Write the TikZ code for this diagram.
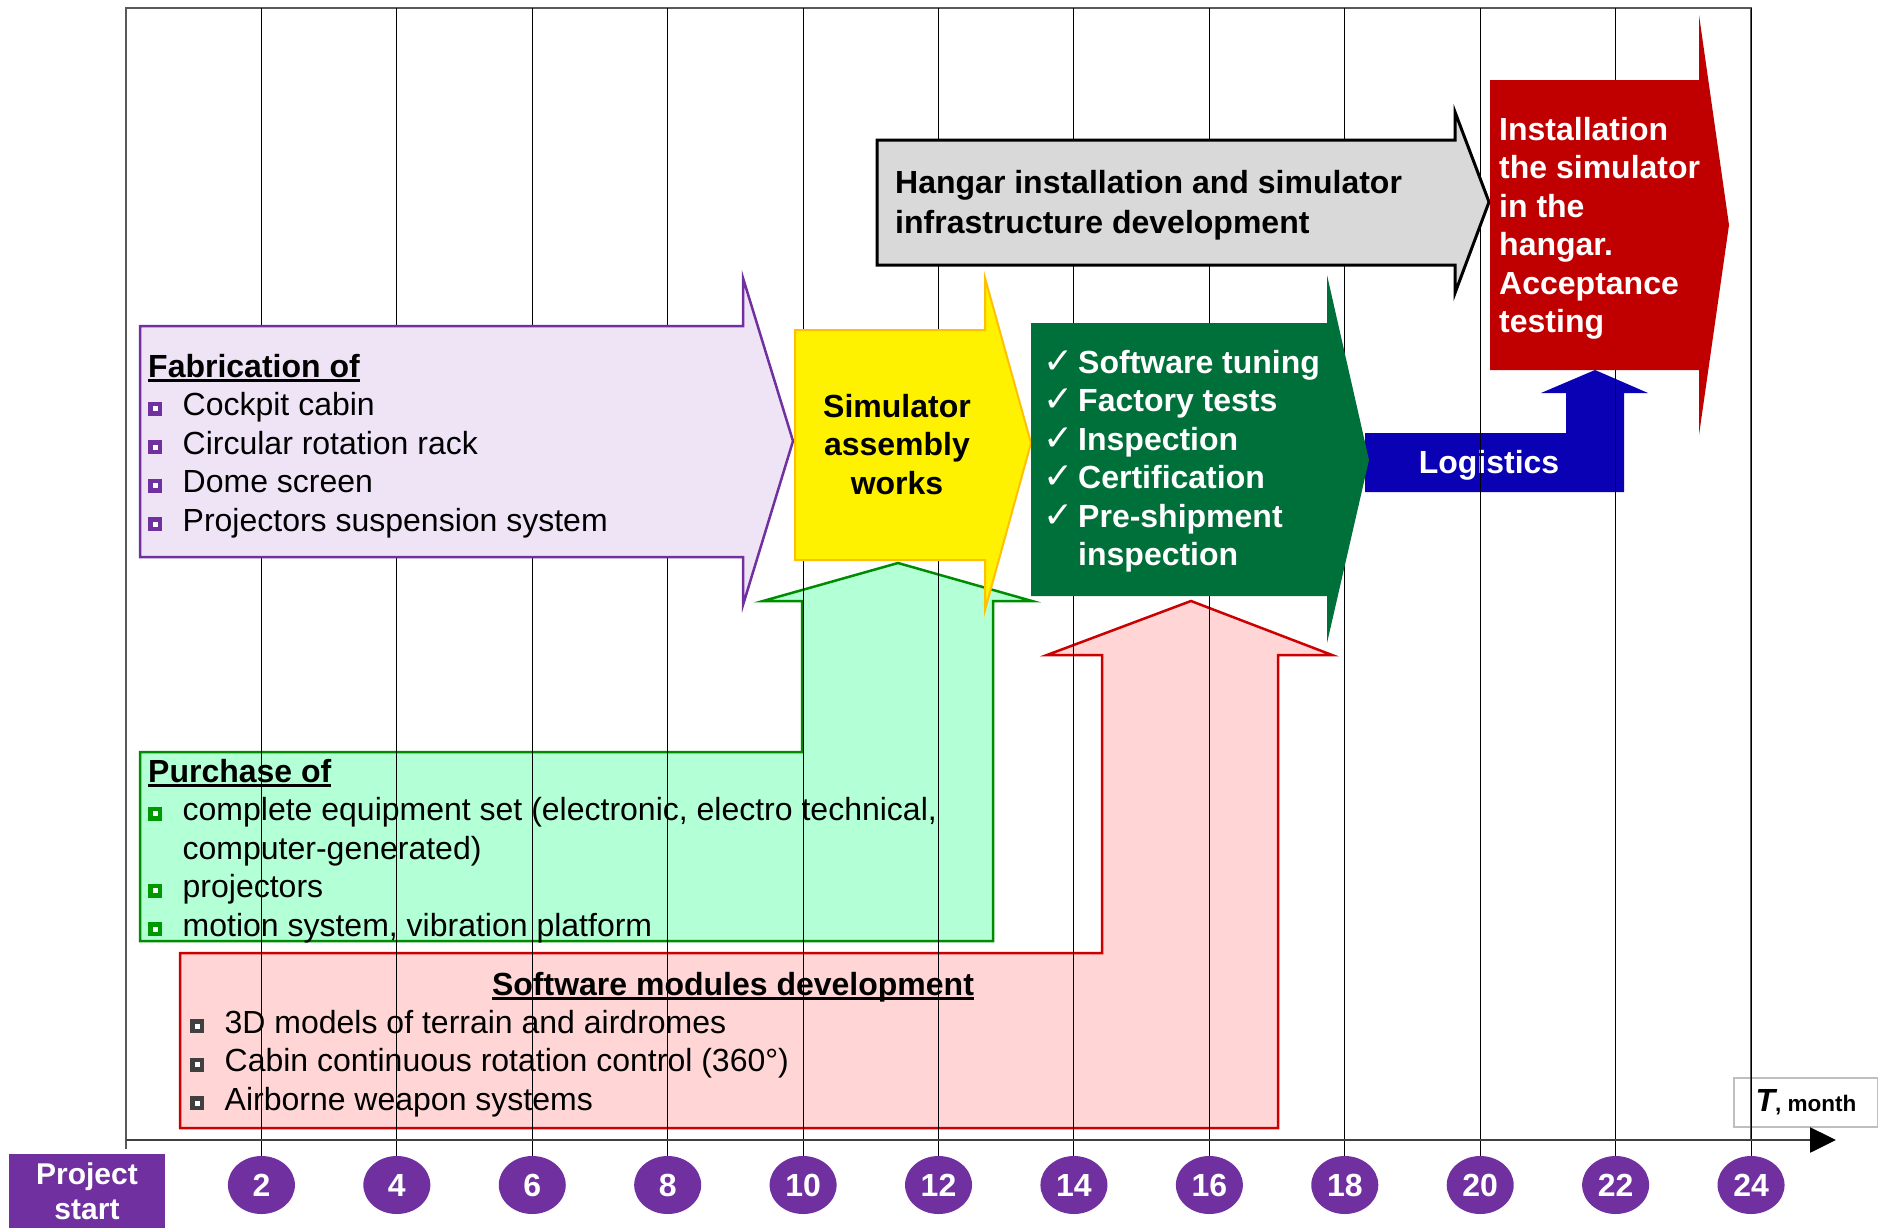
\documentclass[tikz,border=0pt]{standalone}
\usepackage{fontspec}
\setmainfont{Liberation Sans}
\newfontfamily\dejavu{DejaVu Sans}
\usetikzlibrary{shapes.geometric,arrows.meta}
\definecolor{purp}{HTML}{7030A0}
\definecolor{lav}{HTML}{EFE4F6}
\definecolor{yelb}{HTML}{FFC000}
\definecolor{dgreen}{HTML}{00703A}
\definecolor{hgray}{HTML}{D9D9D9}
\definecolor{dred}{HTML}{C00000}
\definecolor{lblue}{HTML}{0A00B4}
\definecolor{lgreen}{HTML}{B3FFD6}
\definecolor{greenb}{HTML}{008C00}
\definecolor{pinkf}{HTML}{FFD5D5}
\definecolor{pinkb}{HTML}{CC0000}
\definecolor{bgray}{HTML}{404040}
\definecolor{bgreen}{HTML}{009A00}
\definecolor{framec}{HTML}{595959}
\definecolor{tboxc}{HTML}{BFBFBF}
\newcommand\fsz{\fontsize{32}{38.5}\selectfont}
\newcommand\fst{\rule{0pt}{25pt}}
\newsavebox\ulsave
\newcommand\ulbf[1]{\sbox\ulsave{\bfseries #1}\rlap{\rule[-5pt]{\wd\ulsave}{3pt}}\usebox\ulsave}
\newcommand\sqbul[1]{\makebox[34.5pt][l]{\rlap{\textcolor{#1}{\rule{14pt}{14pt}}}\hspace{4.5pt}\raisebox{4.5pt}{\textcolor{white}{\rule{5pt}{5pt}}}}}
\newcommand\ckm{\makebox[35pt][l]{\dejavu\mdseries\fontsize{36}{36}\selectfont ✓}}
\tikzset{
  body/.style={inner sep=0pt, anchor=north west, align=left, font=\fsz},
  bodyb/.style={body, font=\fsz\bfseries},
  mcirc/.style={ellipse, fill=purp, minimum width=67pt, minimum height=58pt, inner sep=0pt, text=white, font=\fontsize{32}{32}\selectfont\bfseries},
  psbox/.style={fill=purp, text=white, minimum width=156pt, minimum height=74pt, inner sep=0pt, align=center, font=\fontsize{30}{35}\selectfont\bfseries},
  tbox/.style={draw=tboxc, line width=2pt, minimum width=144pt, minimum height=49pt, inner sep=0pt},
  gridl/.style={line width=1pt, black},
  framel/.style={line width=2pt, framec},
  axisl/.style={line width=2.5pt, draw=bgray, -{Triangle[length=26pt,width=25pt,black]}},
  lightshape/.style={line width=2.5pt},
}
\begin{document}
\begin{tikzpicture}[x=1pt,y=-1pt]
\useasboundingbox (0,0) rectangle (1878,1227);
\fill[white] (0,0) rectangle (1878,1227);
% month markers
\foreach \m in {2,4,...,24} \node[mcirc] (m\m) at ({126+\m*67.71},1185) {\m};
\node[psbox] (ps) at (87,1191) {\rule{0pt}{22pt}Project\\start};
% light shapes under the grid
\path[lightshape, fill=lgreen, draw=greenb] (140,941) -- (140,752) -- (802,752) -- (802,601) -- (763,601) -- (898,563) -- (1032,601) -- (993,601) -- (993,941) -- cycle;
\path[lightshape, fill=pinkf, draw=pinkb] (180,1128) -- (180,953) -- (1102,953) -- (1102,655) -- (1047,655) -- (1191,601) -- (1332,655) -- (1278,655) -- (1278,1128) -- cycle;
\path[fill=lblue] (1365,492) -- (1365,433) -- (1566,433) -- (1566,393) -- (1541,393) -- (1595,370) -- (1648,393) -- (1624,393) -- (1624,492) -- cycle;
% texts under the grid
\node[body] (pur) at (148,757) {\fst\ulbf{Purchase of}\\
  \sqbul{bgreen}complete equipment set (electronic, electro technical,\\
  \hspace*{34.5pt}computer-generated)\\
  \sqbul{bgreen}projectors\\
  \sqbul{bgreen}motion system, vibration platform};
\node[body, anchor=base] (softt) at (733,995) {\ulbf{Software modules development}};
\node[body] (soft) at (190,1008) {\fst\sqbul{bgray}3D models of terrain and airdromes\\
  \sqbul{bgray}Cabin continuous rotation control (360°)\\
  \sqbul{bgray}Airborne weapon systems};
\node[bodyb, anchor=base, text=white] (logi) at (1489,473) {Logistics};
\node[tbox] (tm) at (1806,1102.5) {{\bfseries\itshape\fontsize{32}{32}\selectfont T}{\bfseries\fontsize{22.5}{22.5}\selectfont, month}};
% frame, grid, axis
\coordinate (top) at (0,8);
\coordinate (fbl) at (126,1149);
\coordinate (ftl) at (126,8);
\coordinate (ftr) at (1751,8);
\coordinate (fbr) at (1751,1140);
\draw[framel] (fbl) -- (ftl) -- (ftr) -- (fbr);
\foreach \m in {2,4,...,24} \draw[gridl] (m\m.north) -- (m\m.north |- top);
\coordinate (ax0) at (126,1140);
\coordinate (ax1) at (1836,1140);
\draw[axisl] (ax0) -- (ax1);
% arrows above the grid
\path[lightshape, fill=lav, draw=purp] (140,326) -- (743,326) -- (743,278) -- (793,441) -- (743,605) -- (743,557) -- (140,557) -- cycle;
\path[line width=2pt, fill=yellow, draw=yelb] (795,330) -- (985,330) -- (985,278) -- (1031,443) -- (985,610) -- (985,560) -- (795,560) -- cycle;
\path[fill=dgreen] (1031,323) -- (1327,323) -- (1327,275) -- (1369,460) -- (1327,643) -- (1327,596) -- (1031,596) -- cycle;
\path[line width=3pt, fill=hgray, draw=black] (877,140) -- (1455,140) -- (1455,112) -- (1489,202) -- (1455,293) -- (1455,265) -- (877,265) -- cycle;
\path[fill=dred] (1490,80) -- (1699,80) -- (1699,15) -- (1729,225) -- (1699,435) -- (1699,370) -- (1490,370) -- cycle;
% texts above the grid
\node[body] (fab) at (148,352) {\fst\ulbf{Fabrication of}\\
  \sqbul{purp}Cockpit cabin\\
  \sqbul{purp}Circular rotation rack\\
  \sqbul{purp}Dome screen\\
  \sqbul{purp}Projectors suspension system};
\node[bodyb, align=center, anchor=north] (sim) at (897,392) {\fst Simulator\\assembly\\works};
\node[bodyb, text=white] (chk) at (1043,348) {\fst\ckm Software tuning\\
  \ckm Factory tests\\
  \ckm Inspection\\
  \ckm Certification\\
  \ckm Pre-shipment\\
  \hspace*{35pt}inspection};
\node[bodyb, font=\fontsize{32}{40}\selectfont\bfseries] (hang) at (895,168) {\fst Hangar installation and simulator\\infrastructure development};
\node[bodyb, text=white] (inst) at (1499,115) {\fst Installation\\the simulator\\in the\\hangar.\\Acceptance\\testing};
\end{tikzpicture}
\end{document}
